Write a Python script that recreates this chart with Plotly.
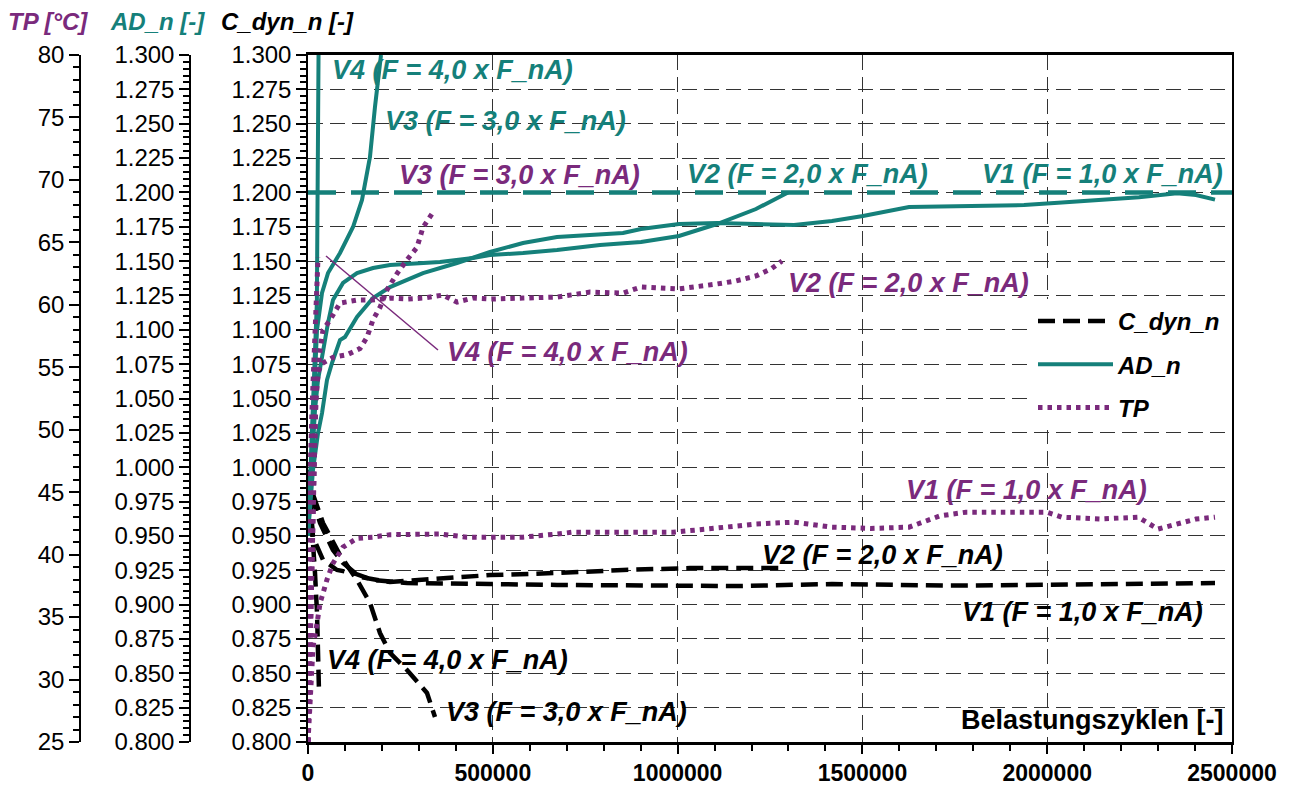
import plotly.graph_objects as go

# ---------------- data ----------------
# C_dyn_n [-]  (black dashed)
C_V1_X = [0, 5400, 13500, 40600, 78500, 121800, 175900, 267900, 403100, 492400, 673700, 852300,
          1033500, 1168800, 1417700, 1728900, 1937200, 2142800, 2454000]
C_V1_Y = [0.998, 0.9761, 0.9492, 0.9325, 0.9252, 0.9230, 0.9179, 0.9157, 0.9157, 0.9150, 0.9143, 0.9143,
          0.9143, 0.9135, 0.9150, 0.9138, 0.9143, 0.9150, 0.9157]
C_V2_X = [0, 10800, 32500, 67600, 94700, 140700, 221900, 311100, 403100, 492400, 673700, 852300,
          1033500, 1168800, 1293300]
C_V2_Y = [0.998, 0.9783, 0.9594, 0.9397, 0.9303, 0.9201, 0.9164, 0.9179, 0.9201, 0.9215, 0.9230, 0.9252,
          0.9266, 0.9266, 0.9266]
C_V3_X = [0, 2700, 40600, 86600, 132600, 167700, 194800, 221900, 267900, 322000, 343600]
C_V3_Y = [0.998, 0.9885, 0.9594, 0.9361, 0.9179, 0.9012, 0.8793, 0.8648, 0.8524, 0.8357, 0.8182]
C_V4_X = [0, 8100, 18900, 24400, 27100, 29800]
C_V4_Y = [0.998, 0.9689, 0.9230, 0.8939, 0.8742, 0.8364]

# AD_n [-]  (teal solid)
AD_V1_X = [0, 13500, 27100, 37900, 51400, 64900, 86600, 100100, 132600, 175900, 221900, 311100, 403100,
           492400, 581700, 673700, 852300, 901000, 1003800, 1106600, 1212100, 1314900, 1417700, 1501600,
           1626100, 1728900, 1937200, 2040000, 2248400, 2351200, 2402600, 2454000]
AD_V1_Y = [0.9507, 0.998, 1.0249, 1.0394, 1.0635, 1.0758, 1.0926, 1.0948, 1.1093, 1.1231, 1.1311, 1.1413,
           1.1486, 1.1566, 1.1632, 1.1675, 1.1704, 1.1734, 1.177, 1.1777, 1.177, 1.1763, 1.1792, 1.1828,
           1.1894, 1.1901, 1.1908, 1.1927, 1.1964, 1.1993, 1.1981, 1.1947]
AD_V2_X = [0, 10800, 18900, 27100, 40600, 54100, 67600, 94700, 132600, 175900, 221900, 311100, 357100,
           446400, 492400, 581700, 673700, 790000, 901000, 1003800, 1106600, 1212100, 1298700]
AD_V2_Y = [0.9507, 1.0052, 1.0416, 1.0635, 1.0853, 1.105, 1.1217, 1.1341, 1.1413, 1.145, 1.1472, 1.1486,
           1.1493, 1.1523, 1.1544, 1.1559, 1.1581, 1.1617, 1.1639, 1.1683, 1.177, 1.1879, 1.2]
AD_V3_X = [0, 8100, 13500, 24400, 37900, 54100, 86600, 121800, 146100, 167700, 181200, 197500]
AD_V3_Y = [0.9507, 0.998, 1.0344, 1.0999, 1.1268, 1.1413, 1.1559, 1.1748, 1.1945, 1.2258, 1.2622, 1.3]
AD_V4_X = [0, 5000, 11000, 19000, 24000, 27000, 28500]
AD_V4_Y = [0.95, 0.99, 1.04, 1.085, 1.12, 1.2, 1.3]

# TP [°C]  (purple dotted)
TP_V1_X = [0, 5400, 10800, 13500, 24400, 32500, 51400, 67600, 94700, 132600, 175900, 221900, 357100,
           430200, 492400, 581700, 673700, 717000, 852300, 987500, 1079500, 1168800, 1212100, 1314900,
           1417700, 1523200, 1626100, 1709900, 1780300, 1999400, 2040000, 2142800, 2245600, 2299800,
           2351200, 2402600, 2454000]
TP_V1_Y = [25.0, 27.8, 30.5, 32.6, 34.5, 36.1, 38.0, 39.3, 40.6, 41.3, 41.4, 41.6, 41.65, 41.4, 41.4,
           41.4, 41.65, 41.8, 41.8, 41.8, 42.05, 42.3, 42.45, 42.6, 42.2, 42.1, 42.2, 43.1, 43.4, 43.4,
           43.0, 42.85, 43.0, 42.05, 42.4, 42.85, 43.0]
TP_V2_X = [0, 5400, 10800, 16200, 21600, 32500, 40600, 59500, 86600, 132600, 173200, 221900, 267900,
           311100, 365300, 403100, 446400, 492400, 581700, 673700, 763000, 852300, 901000, 1003800,
           1106600, 1158000, 1212100, 1252700, 1282500]
TP_V2_Y = [25.0, 33.16, 39.57, 46.77, 52.38, 56.38, 57.98, 58.78, 60.14, 60.38, 60.38, 60.54, 60.46,
           60.54, 60.78, 60.22, 60.54, 60.46, 60.54, 60.62, 61.02, 60.94, 61.43, 61.27, 61.67, 61.91,
           62.31, 62.87, 63.51]
TP_V3_X = [0, 5400, 10800, 16200, 21600, 27100, 37900, 67600, 105500, 140700, 159600, 175900, 194800,
           213700, 240800, 267900, 294900, 311100, 330100, 338200]
TP_V3_Y = [25.0, 33.2, 41.2, 49.2, 53.2, 54.6, 55.3, 55.8, 56.0, 56.5, 57.4, 58.8, 59.8, 61.2, 62.5,
           63.6, 64.6, 66.2, 67.0, 67.4]
TP_V4_X = [0, 2700, 5400, 10800, 16200, 21600, 24400, 27100]
TP_V4_Y = [25.0, 36.4, 46.0, 51.6, 55.6, 59.6, 62.0, 63.8]

AD_LIMIT = 1.2
SERIES_LABELS = ["V1 (F = 1,0 x F_nA)", "V2 (F = 2,0 x F_nA)",
                 "V3 (F = 3,0 x F_nA)", "V4 (F = 4,0 x F_nA)"]
X_TITLE = "Belastungszyklen [-]"

# ---------------- style ----------------
TEAL = "#15807a"
PURPLE = "#7a2a7c"
BLACK = "#000000"
FONT = "Liberation Sans, Arial, sans-serif"
GRID = "#333333"

W, H = 1290, 787
XD = [308 / W, 1232 / W]
YD = [1 - 742 / H, 1 - 55 / H]

fig = go.Figure()

c_sets = [(C_V1_X, C_V1_Y), (C_V2_X, C_V2_Y), (C_V3_X, C_V3_Y), (C_V4_X, C_V4_Y)]
ad_sets = [(AD_V1_X, AD_V1_Y), (AD_V2_X, AD_V2_Y), (AD_V3_X, AD_V3_Y), (AD_V4_X, AD_V4_Y)]
tp_sets = [(TP_V1_X, TP_V1_Y), (TP_V2_X, TP_V2_Y), (TP_V3_X, TP_V3_Y), (TP_V4_X, TP_V4_Y)]

for i, (xs, ys) in enumerate(c_sets):
    fig.add_trace(go.Scatter(x=xs, y=ys, mode="lines", yaxis="y", name="C_dyn_n",
                             legendgroup="c", showlegend=(i == 0),
                             line=dict(color=BLACK, width=4.5, dash="17px,8px")))
for i, (xs, ys) in enumerate(ad_sets):
    fig.add_trace(go.Scatter(x=xs, y=ys, mode="lines", yaxis="y2", name="AD_n",
                             legendgroup="ad", showlegend=(i == 0),
                             line=dict(color=TEAL, width=4)))
for i, (xs, ys) in enumerate(tp_sets):
    fig.add_trace(go.Scatter(x=xs, y=ys, mode="lines", yaxis="y3", name="TP",
                             legendgroup="tp", showlegend=(i == 0),
                             line=dict(color=PURPLE, width=5, dash="4.5px,5px")))

tick_font = dict(family=FONT, size=24, color=BLACK)
common_y = dict(range=[0.8, 1.3], tick0=0.8, dtick=0.025, tickformat=".3f",
                ticks="outside", ticklen=10, tickwidth=1.5, tickcolor=BLACK,
                showline=True, linecolor=BLACK, linewidth=1.5,
                minor=dict(dtick=0.005, ticks="outside", ticklen=6, tickcolor=BLACK, tickwidth=1.5),
                tickfont=tick_font, zeroline=False, fixedrange=True)

fig.update_layout(
    width=W, height=H,
    margin=dict(l=0, r=0, t=0, b=0),
    paper_bgcolor="white", plot_bgcolor="white",
    font=dict(family=FONT, color=BLACK),
    xaxis=dict(domain=XD, range=[0, 2500000], dtick=500000, tick0=0, tickformat="d",
               ticks="outside", ticklen=9, tickwidth=1.5, tickcolor=BLACK,
               minor=dict(dtick=100000, ticks="outside", ticklen=6, tickcolor=BLACK, tickwidth=1.5),
               showline=True, linecolor=BLACK, linewidth=2.5, mirror=True,
               showgrid=True, gridcolor=GRID, gridwidth=1, griddash="15px,7px",
               tickfont=dict(family=FONT, size=23, color=BLACK, weight="bold"),
               zeroline=False, automargin=False),
    yaxis=dict(domain=YD, anchor="x", side="left", mirror=True,
               showgrid=True, gridcolor=GRID, gridwidth=1, griddash="15px,7px",
               automargin=False, **common_y),
    yaxis2=dict(overlaying="y", anchor="free", position=190 / W, side="left",
                showgrid=False, automargin=False, **common_y),
    yaxis3=dict(overlaying="y", anchor="free", position=80 / W, side="left",
                range=[25, 80], tick0=25, dtick=5, ticks="outside", ticklen=10, tickwidth=1.5,
                tickcolor=BLACK, showline=True, linecolor=BLACK, linewidth=1.5,
                minor=dict(dtick=1, ticks="outside", ticklen=6, tickcolor=BLACK, tickwidth=1.5),
                tickfont=tick_font, showgrid=False, zeroline=False, automargin=False),
    legend=dict(x=1033 / W, y=1 - 299 / H, xanchor="left", yanchor="top",
                bgcolor="white", borderwidth=0, traceorder="grouped", tracegroupgap=9,
                itemwidth=75,
                font=dict(family=FONT, size=24, color=BLACK, weight="bold", style="italic")),
    showlegend=True,
)

# 1.2 limit line
fig.add_shape(type="line", xref="x", yref="y", x0=0, x1=2500000, y0=AD_LIMIT, y1=AD_LIMIT,
              line=dict(color=TEAL, width=4.5, dash="28px,15px"))
# leader line for the purple V4 label
fig.add_shape(type="line", xref="x", yref="y", x0=48700, y0=1.1537, x1=351700, y1=1.0853,
              line=dict(color=PURPLE, width=1.5))

def lab(text, x, y, color, xanchor="left", italic=True):
    fig.add_annotation(text=text, x=x, y=y, xref="x", yref="y", xanchor=xanchor, yanchor="middle",
                       showarrow=False,
                       font=dict(family=FONT, size=27, color=color, weight="bold",
                                 style="italic" if italic else "normal"))

lab(SERIES_LABELS[3], 59500, 1.2891, TEAL)
lab(SERIES_LABELS[2], 202900, 1.2520, TEAL)
lab(SERIES_LABELS[2], 240800, 1.2127, PURPLE)
lab(SERIES_LABELS[1], 1020000, 1.2134, TEAL)
lab(SERIES_LABELS[0], 1818200, 1.2134, TEAL)
lab(SERIES_LABELS[1], 1293300, 1.1341, PURPLE)
lab(SERIES_LABELS[3], 370700, 1.0838, PURPLE)
lab(SERIES_LABELS[0], 1612500, 0.9834, PURPLE)
lab(SERIES_LABELS[1], 1222900, 0.9361, BLACK)
lab(SERIES_LABELS[0], 1764000, 0.8946, BLACK)
lab(SERIES_LABELS[3], 46000, 0.8597, BLACK)
lab(SERIES_LABELS[2], 368000, 0.8218, BLACK)
lab(X_TITLE, 2483700, 0.816, BLACK, xanchor="right", italic=False)

# axis titles on top
for text, cx, color in [("TP [°C]", 48, PURPLE), ("AD_n [-]", 157, TEAL), ("C_dyn_n [-]", 287, BLACK)]:
    fig.add_annotation(text=text, x=cx / W, y=1 - 21 / H, xref="paper", yref="paper",
                       xanchor="center", yanchor="middle", showarrow=False,
                       font=dict(family=FONT, size=24, color=color, weight="bold", style="italic"))

fig.write_html("out.html")
